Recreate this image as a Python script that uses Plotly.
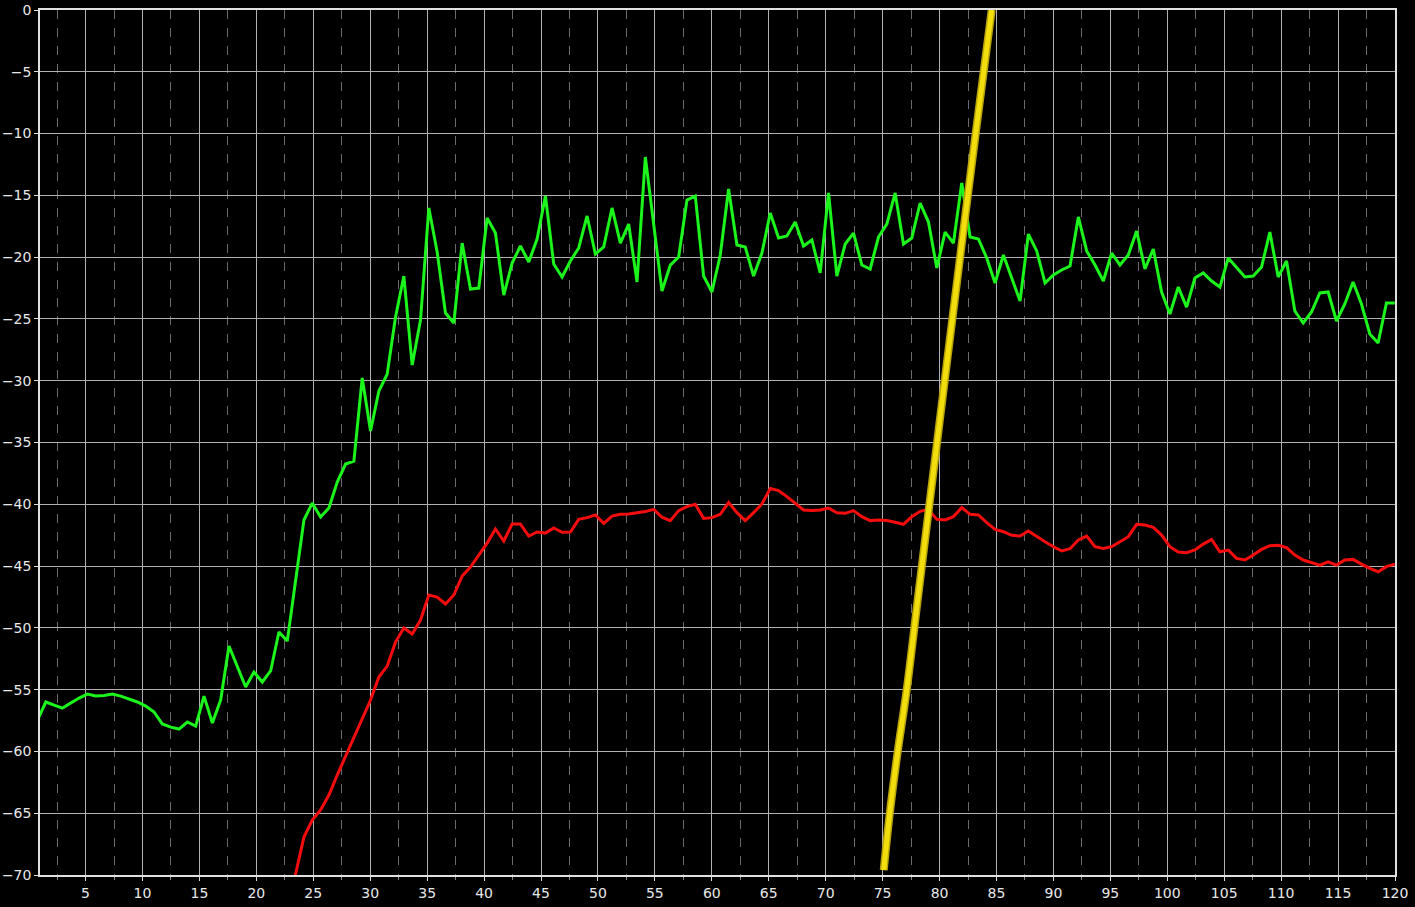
import numpy as np
import plotly.graph_objects as go

# frequency grid (uniform bins)
FREQ_START = 1.509      # x of bin k=0
FREQ_STEP = 0.7313

green_first_bin = -1
green_vals = [-57.46, -56.00, -56.25, -56.49, -56.08, -55.68, -55.36, -55.52, -55.48, -55.36,
              -55.52, -55.76, -56.00, -56.33, -56.81, -57.78, -58.03, -58.19, -57.62, -57.95,
              -55.52, -57.70, -55.84, -51.47, -53.09, -54.79, -53.58, -54.38, -53.49, -50.34,
              -51.07, -45.97, -41.27, -39.90, -41.03, -40.30, -38.20, -36.74, -36.50, -29.78,
              -34.07, -30.83, -29.46, -24.85, -21.53, -28.73, -25.09, -16.02, -19.59, -24.52,
              -25.33, -18.86, -22.58, -22.50, -16.83, -18.05, -23.07, -20.48, -19.10, -20.39,
              -18.53, -15.05, -20.56, -21.61, -20.31, -19.26, -16.67, -19.75, -19.18, -16.02,
              -18.86, -17.32, -22.01, -11.90, -17.32, -22.74, -20.64, -19.99, -15.38, -15.05,
              -21.53, -22.82, -19.83, -14.49, -19.02, -19.18, -21.53, -19.67, -16.43, -18.45,
              -18.29, -17.16, -19.10, -18.61, -21.28, -14.81, -21.53, -18.94, -18.05, -20.64,
              -20.96, -18.37, -17.32, -14.81, -18.94, -18.45, -15.62, -17.16, -20.88, -17.97,
              -18.86, -14.00, -18.37, -18.53, -20.07, -22.09, -19.83, -21.61, -23.55, -18.13,
              -19.50, -22.09, -21.45, -21.04, -20.72, -16.75, -19.50, -20.64, -21.93, -19.67,
              -20.64, -19.83, -17.89, -20.96, -19.34, -22.82, -24.60, -22.42, -24.04, -21.69,
              -21.28, -21.93, -22.42, -20.07, -20.88, -21.61, -21.53, -20.80, -17.97, -21.61,
              -20.31, -24.36, -25.33, -24.44, -22.90, -22.82, -25.17, -23.79, -22.01, -23.79,
              -26.22, -26.95, -23.71, -23.71]

red_first_bin = 29
red_vals = [-73.5, -69.92, -66.93, -65.55, -64.74, -63.53, -61.91, -60.37, -58.84, -57.30,
            -55.84, -53.98, -53.09, -51.15, -50.01, -50.50, -49.37, -47.34, -47.51, -48.07,
            -47.34, -45.81, -45.08, -44.11, -43.14, -42.00, -42.97, -41.60, -41.60, -42.57,
            -42.24, -42.33, -41.92, -42.27, -42.24, -41.22, -41.08, -40.86, -41.54, -40.95,
            -40.81, -40.78, -40.68, -40.59, -40.41, -41.05, -41.32, -40.51, -40.19, -40.00,
            -41.14, -41.08, -40.81, -39.86, -40.68, -41.32, -40.68, -39.97, -38.73, -38.89,
            -39.38, -39.92, -40.46, -40.51, -40.46, -40.30, -40.68, -40.73, -40.51, -41.00,
            -41.32, -41.27, -41.32, -41.46, -41.62, -41.00, -40.57, -40.41, -41.22, -41.27,
            -41.00, -40.27, -40.81, -40.86, -41.49, -42.03, -42.22, -42.51, -42.57, -42.16,
            -42.62, -43.03, -43.43, -43.78, -43.60, -42.89, -42.57, -43.43, -43.57, -43.43,
            -43.03, -42.62, -41.62, -41.68, -41.87, -42.49, -43.43, -43.87, -43.92, -43.70,
            -43.22, -42.84, -43.84, -43.70, -44.38, -44.51, -44.11, -43.65, -43.35, -43.32,
            -43.51, -44.11, -44.51, -44.73, -44.92, -44.65, -44.92, -44.51, -44.46, -44.84,
            -45.19, -45.46, -45.05, -44.84]

yellow_x = [84.58, 83.18, 81.33, 80.05, 78.08, 77.12, 76.33, 75.63, 75.10]
yellow_y = [0.0, -9.95, -23.5, -33.0, -47.75, -55.0, -60.0, -65.0, -69.6]

x_ticks = list(range(5, 121, 5))
y_ticks = list(range(-70, 1, 5))


def bins(first, n):
    return FREQ_START + FREQ_STEP * np.arange(first, first + n)


fig = go.Figure()
fig.add_trace(go.Scatter(x=bins(green_first_bin, len(green_vals)), y=green_vals,
                         mode="lines", line=dict(color="#1cf51c", width=3),
                         showlegend=False, hoverinfo="skip"))
fig.add_trace(go.Scatter(x=bins(red_first_bin, len(red_vals)), y=red_vals,
                         mode="lines", line=dict(color="#f50d0d", width=3),
                         showlegend=False, hoverinfo="skip"))
fig.add_trace(go.Scatter(x=yellow_x, y=yellow_y, mode="lines",
                         line=dict(color="#b8a30a", width=8, shape="spline"),
                         showlegend=False, hoverinfo="skip"))
fig.add_trace(go.Scatter(x=yellow_x, y=yellow_y, mode="lines",
                         line=dict(color="#f2de0c", width=5, shape="spline"),
                         showlegend=False, hoverinfo="skip"))

axis_font = dict(family="DejaVu Sans", size=14, color="#e8e8e8")

fig.update_layout(
    width=1415, height=907,
    margin=dict(l=40, r=20, t=10, b=32),
    paper_bgcolor="black", plot_bgcolor="black",
    font=axis_font,
)
fig.update_xaxes(
    range=[1, 120], tickmode="array", tickvals=x_ticks, automargin=False,
    ticks="outside", ticklen=4, tickcolor="#dddddd",
    showgrid=True, gridcolor="#b0b0b0", gridwidth=1,
    showline=True, linecolor="#e0e0e0", linewidth=1.5, mirror=True,
    zeroline=False, tickfont=axis_font,
    minor=dict(tick0=2.5, dtick=5, showgrid=True, gridcolor="#6a6a6a",
               griddash="dash", gridwidth=1, ticks="outside", ticklen=3,
               tickcolor="#888888"),
)
fig.update_yaxes(
    range=[-70, 0], tickmode="array", tickvals=y_ticks, automargin=False,
    ticks="outside", ticklen=4, tickcolor="#dddddd",
    showgrid=True, gridcolor="#b0b0b0", gridwidth=1,
    showline=True, linecolor="#e0e0e0", linewidth=1.5, mirror=True,
    zeroline=False, tickfont=axis_font,
)

fig.write_html("out.html",
               config={"displayModeBar": False},
               post_script="document.body.style.margin='0';"
                           "document.body.style.background='black';"
                           "document.body.style.overflow='hidden';")
